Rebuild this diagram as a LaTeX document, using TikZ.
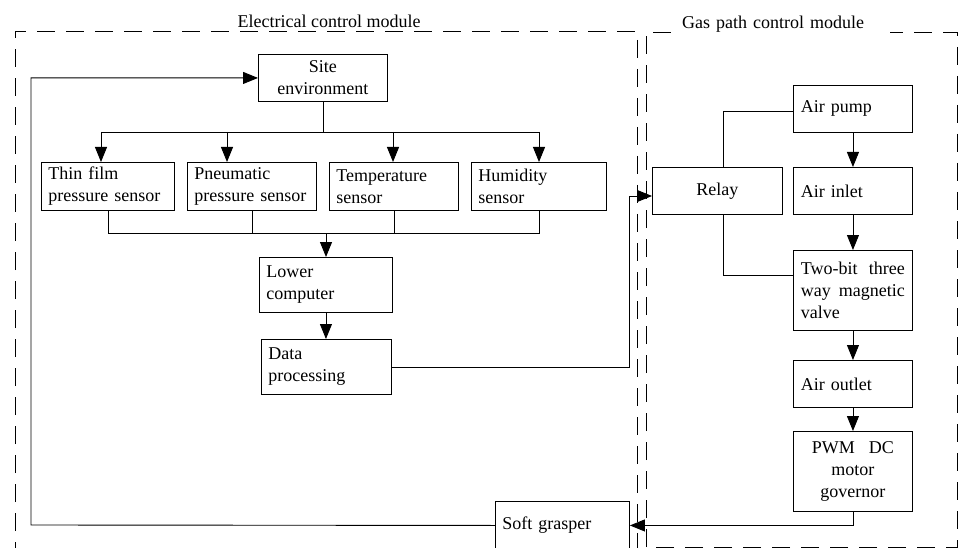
\documentclass[tikz,border=0pt]{standalone}
\usepackage{fontspec}
\setmainfont{Liberation Serif}
\usetikzlibrary{arrows.meta}
\newcommand{\fs}{\fontsize{18}{22}\selectfont}
\tikzset{
  box/.style={draw, line width=0.9pt, anchor=north west, inner xsep=7pt, inner ysep=0pt, font=\fs, align=left},
  cbox/.style={box, align=center},
  ln/.style={line width=0.9pt},
  arr/.style={line width=0.9pt, -{Triangle[length=15pt,width=12pt]}},
  dashbox/.style={line width=0.9pt, dash pattern=on 18pt off 11pt},
}
\begin{document}
\begin{tikzpicture}[x=1pt,y=-1pt]
\useasboundingbox (0,0) rectangle (958,548);
% module frames
\draw[dashbox] (15,560) -- (15,31) -- (637,31) -- (637,560);
\draw[dashbox] (646,547) -- (646,32) -- (957,32) -- (957,547) -- cycle;
\node[font=\fs, inner sep=0pt] (elab) at (329,21) {Electrical control module};
\node[fill=white, font=\fs, anchor=west, inner xsep=3pt, text width=205pt, align=left] (glab) at (679,24) {Gas path control module};
% boxes
\node[cbox, minimum width=129pt, minimum height=47pt, text width=115pt] (site) at (258,54) {Site\\environment};
\node[box, minimum width=133pt, minimum height=48pt, text width=119pt] (thin) at (41,162) {Thin film\\pressure sensor};
\node[box, minimum width=129pt, minimum height=48pt, text width=115pt] (pneu) at (187,162) {Pneumatic\\pressure sensor};
\node[box, minimum width=129pt, minimum height=48pt, text width=115pt] (temp) at (329,162) {Temperature\\sensor};
\node[box, minimum width=135pt, minimum height=48pt, text width=121pt] (hum) at (471,162) {Humidity\\sensor};
\node[box, minimum width=133pt, minimum height=55pt, text width=119pt] (lower) at (259,257) {Lower\\computer};
\node[box, minimum width=130pt, minimum height=55pt, text width=116pt] (data) at (261,339) {Data\\processing};
\node[cbox, minimum width=130pt, minimum height=47pt, text width=116pt] (relay) at (652,167) {Relay};
\node[box, minimum width=119pt, minimum height=47pt, text width=104pt, inner xsep=7.5pt] (pump) at (793,85) {Air pump};
\node[box, minimum width=119pt, minimum height=47pt, text width=104pt, inner xsep=7.5pt] (inlet) at (793,167) {Air inlet};
\node[box, minimum width=119pt, minimum height=80pt, text width=104pt, inner xsep=7.5pt] (twobit) at (793,250) {\makebox[104pt]{Two-bit\hfill three}\\\makebox[104pt]{way\hfill magnetic}\\valve};
\node[box, minimum width=119pt, minimum height=47pt, text width=104pt, inner xsep=7.5pt] (outlet) at (793,360) {Air outlet};
\node[cbox, minimum width=119pt, minimum height=80pt, text width=104pt, inner xsep=7.5pt] (pwm) at (793,431) {\makebox[82pt]{PWM\hfill DC}\\motor\\governor};
\node[box, minimum width=134pt, minimum height=48pt, text width=120pt] (soft) at (495,501) {Soft grasper};
% connectors: site environment to sensors
\coordinate (b0) at (323,132);
\coordinate (bl) at (101,132);
\coordinate (b2) at (227,132);
\coordinate (b3) at (393,132);
\coordinate (br) at (539,132);
\draw[ln] (b0 |- site.south) -- (b0);
\draw[ln] (bl) -- (br);
\draw[arr] (bl) -- (bl |- thin.north);
\draw[arr] (b2) -- (b2 |- pneu.north);
\draw[arr] (b3) -- (b3 |- temp.north);
\draw[arr] (br) -- (br |- hum.north);
% sensors to lower computer
\coordinate (m) at (326,233);
\draw[ln] (thin.south) -- (thin.south |- m) -- (hum.south |- m) -- (hum.south);
\draw[ln] (pneu.south) -- (pneu.south |- m);
\draw[ln] (temp.south) -- (temp.south |- m);
\draw[arr] (m) -- (m |- lower.north);
\draw[arr] (lower.south) -- (lower.south |- data.north);
% data processing to relay
\coordinate (rin) at (629,196);
\draw[arr] (data.east) -| (rin) -- (rin -| relay.west);
% relay to pump and valve
\coordinate (rt) at (723,111);
\coordinate (rb) at (723,275);
\draw[ln] (rt |- relay.north) -- (rt) -- (rt -| pump.west);
\draw[ln] (rb |- relay.south) -- (rb) -- (rb -| twobit.west);
% gas path chain
\draw[arr] (pump.south) -- (inlet.north);
\draw[arr] (inlet.south) -- (twobit.north);
\draw[arr] (twobit.south) -- (outlet.north);
\draw[arr] (outlet.south) -- (pwm.north);
\draw[arr] (pwm.south) |- (soft.east);
% feedback
\coordinate (fb) at (31,525);
\draw[arr] (soft.west) -- (fb) |- (site.west);
\end{tikzpicture}
\end{document}
